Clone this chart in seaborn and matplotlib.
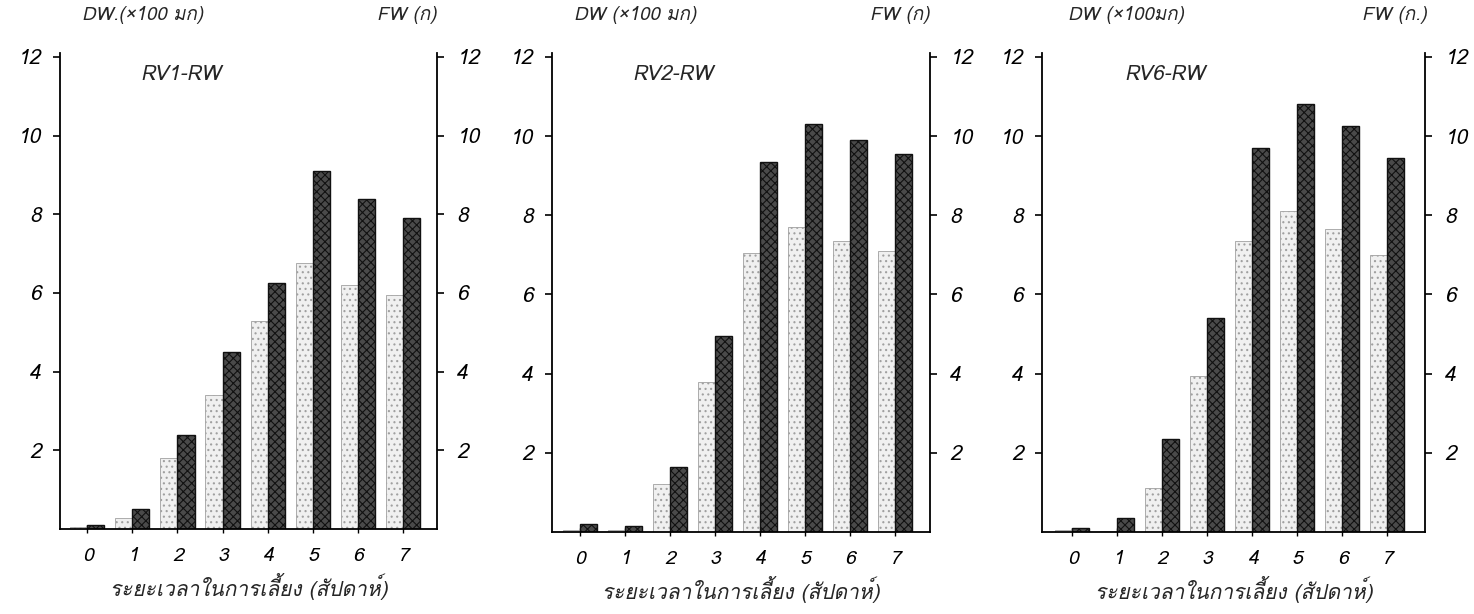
import matplotlib
matplotlib.use("Agg")
import matplotlib.pyplot as plt
import seaborn as sns
import pandas as pd
from matplotlib import font_manager

# ---------------- data ----------------
weeks = [0, 1, 2, 3, 4, 5, 6, 7]
week_labels = ["0", "1", "2", "3", "4", "5", "6", "7"]
panel_titles = ["RV1-RW", "RV2-RW", "RV6-RW"]
dw_labels = ["DW.(×100 มก)", "DW (×100 มก)", "DW (×100มก)"]
fw_labels = ["FW (ก)", "FW (ก)", "FW (ก.)"]
xlabel_text = "ระยะเวลาในการเลี้ยง (สัปดาห์)"
yticks = [2, 4, 6, 8, 10, 12]

rv1_dw = [0.05, 0.28, 1.8, 3.4, 5.3, 6.75, 6.2, 5.95]
rv1_fw = [0.1, 0.5, 2.4, 4.5, 6.25, 9.1, 8.4, 7.9]
rv2_dw = [0.05, 0.05, 1.2, 3.8, 7.05, 7.7, 7.35, 7.1]
rv2_fw = [0.2, 0.15, 1.65, 4.95, 9.35, 10.3, 9.9, 9.55]
rv6_dw = [0.05, 0.02, 1.1, 3.95, 7.35, 8.1, 7.65, 7.0]
rv6_fw = [0.1, 0.35, 2.35, 5.4, 9.7, 10.8, 10.25, 9.45]

series = [(rv1_dw, rv1_fw), (rv2_dw, rv2_fw), (rv6_dw, rv6_fw)]

# ---------------- fonts ----------------
sns.set_theme(style="white")
thai_font = None
try:
    from fontTools.ttLib import TTFont
    for f in font_manager.fontManager.ttflist:
        try:
            tt = TTFont(f.fname, fontNumber=0, lazy=True)
            cmap = tt.getBestCmap()
            if cmap and 0x0E01 in cmap and 0x0E49 in cmap and 0x0E2A in cmap:
                thai_font = f.name
                break
        except Exception:
            pass
except Exception:
    pass
families = ([thai_font] if thai_font else []) + ["DejaVu Sans"]
plt.rcParams["font.family"] = families
plt.rcParams["hatch.linewidth"] = 0.8

# ---------------- layout ----------------
fig = plt.figure(figsize=(14.74, 6.14), dpi=100)
W, H = 1474.0, 614.0
boxes = [(60, 437, 529), (552, 930, 532), (1042, 1425, 532)]
top_px = 53
xlims = [(-0.6, 7.75), (-0.62, 7.78), (-0.67, 7.84)]

for i, ((l, r, b), (dw, fw)) in enumerate(zip(boxes, series)):
    ax = fig.add_axes([l / W, (H - b) / H, (r - l) / W, (b - top_px) / H])
    df = pd.DataFrame({
        "week": week_labels * 2,
        "value": list(dw) + list(fw),
        "measure": ["DW"] * len(weeks) + ["FW"] * len(weeks),
    })
    sns.barplot(data=df, x="week", y="value", hue="measure", ax=ax,
                palette={"DW": "#f0f0f0", "FW": "#4a4a4a"}, width=0.76,
                dodge=True, legend=False, saturation=1, gap=0)
    for p in ax.containers[0]:
        p.set_hatch("...")
        p.set_edgecolor("#a0a0a0")
        p.set_linewidth(0.6)
    for p in ax.containers[1]:
        p.set_hatch("xxxx")
        p.set_edgecolor("#111111")
        p.set_linewidth(1.0)
    ax.set_xlim(*xlims[i])
    ax.set_ylim(0, 12.1)
    ax.set_yticks(yticks)
    ax.set_yticklabels([str(t) for t in yticks])
    ax.set_xlabel("")
    ax.set_ylabel("")
    for s in ["left", "right", "bottom"]:
        ax.spines[s].set_visible(True)
        ax.spines[s].set_color("black")
        ax.spines[s].set_linewidth(1.3)
    ax.spines["top"].set_visible(False)
    ax.tick_params(axis="y", left=True, right=True, labelleft=True,
                   labelright=True, direction="out", length=5, width=1.2,
                   colors="black", labelsize=15, pad=9)
    ax.tick_params(axis="x", bottom=True, direction="inout", length=6,
                   width=1.0, colors="black", labelsize=14, pad=10)
    for lab in ax.get_xticklabels() + ax.get_yticklabels():
        lab.set_fontstyle("italic")
    ax.text(0.32, 0.955, panel_titles[i], transform=ax.transAxes,
            fontsize=15, fontstyle="italic", ha="center", va="center")
    ax.set_xlabel(xlabel_text, fontsize=15, fontstyle="italic", labelpad=6)
    ax.text(0.22, 1.06, dw_labels[i], transform=ax.transAxes,
            fontsize=13.5, fontstyle="italic", ha="center", va="bottom")
    ax.text(0.92, 1.06, fw_labels[i], transform=ax.transAxes,
            fontsize=13.5, fontstyle="italic", ha="center", va="bottom")
    ax.grid(False)
    ax.set_facecolor("white")

fig.savefig("out.png", dpi=100, facecolor="white")
